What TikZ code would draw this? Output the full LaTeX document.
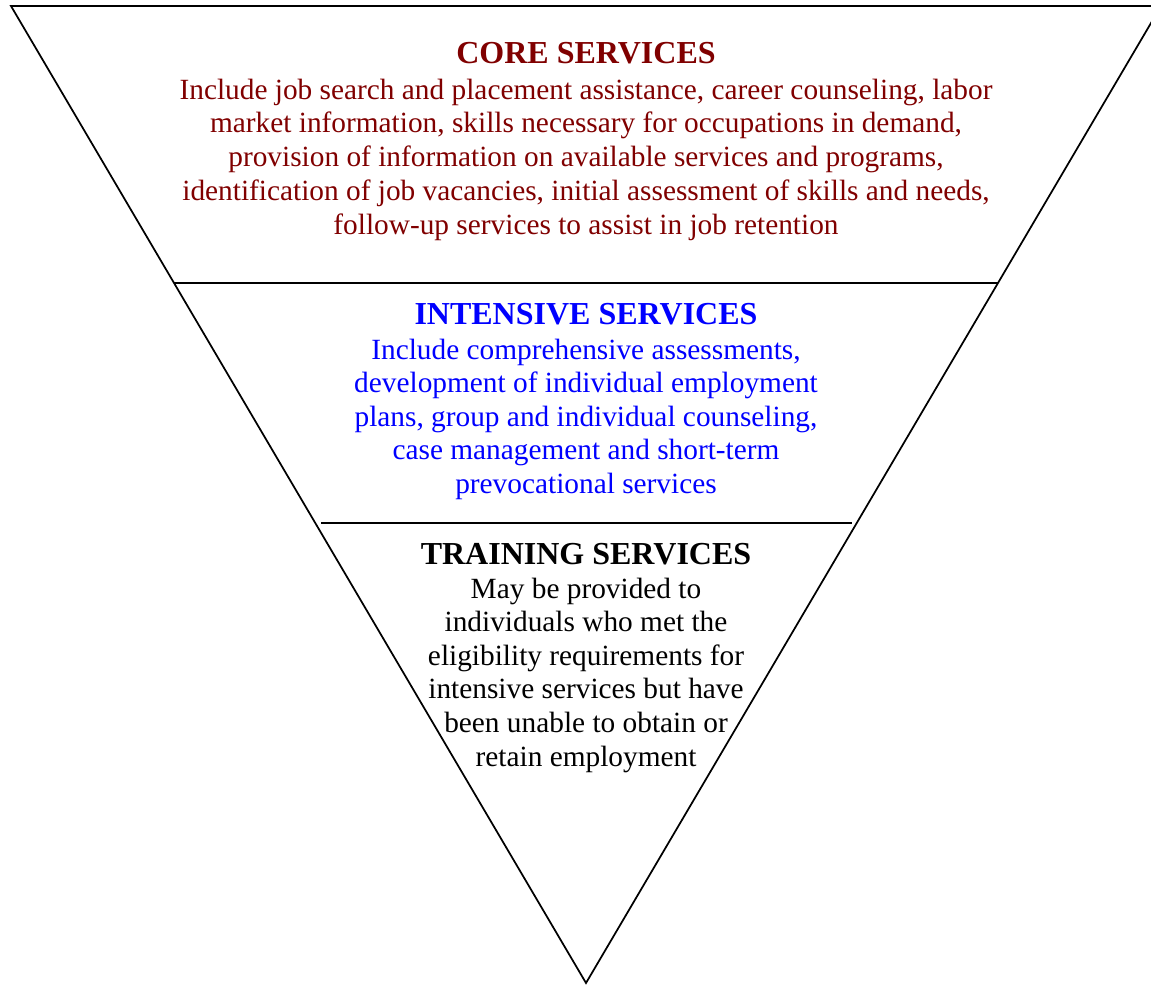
\documentclass[tikz,border=0pt]{standalone}
\usepackage{fontspec}
\setmainfont{Liberation Serif}
\definecolor{coreRed}{RGB}{128,0,0}
\definecolor{intBlue}{RGB}{0,0,255}
\begin{document}
\begin{tikzpicture}[x=0.75pt,y=-0.75pt,
  outline/.style={line width=1.3pt,black},
  headtext/.style={font=\fontsize{24}{28}\selectfont\bfseries,inner sep=0pt,anchor=base},
  bodytext/.style={font=\fontsize{22}{26}\selectfont,inner sep=0pt,anchor=base},
  corestyle/.style={text=coreRed},
  intstyle/.style={text=intBlue},
  trainstyle/.style={text=black}]
\useasboundingbox (0,0) rectangle (1151,985);
\begin{scope}
\clip (0,0) rectangle (1151,985);
% inverted triangle and the two tier dividers
\draw[outline,line join=miter] (11,6) -- (1161,6) -- (586,983) -- cycle;
\draw[outline] (174,283) -- (998,283);
\draw[outline] (321,523) -- (852,523);
\end{scope}

% core tier
\node[headtext,corestyle] (coreTitle) at (586,63) {CORE SERVICES};
\foreach \t [count=\i] in {
  {Include job search and placement assistance, career counseling, labor},
  {market information, skills necessary for occupations in demand,},
  {provision of information on available services and programs,},
  {identification of job vacancies, initial assessment of skills and needs,},
  {follow-up services to assist in job retention}}
  \node[bodytext,corestyle] (core-\i) at (586,{99+33.75*(\i-1)}) {\t};

% intensive tier
\node[headtext,intstyle] (intTitle) at (586,324) {INTENSIVE SERVICES};
\foreach \t [count=\i] in {
  {Include comprehensive assessments,},
  {development of individual employment},
  {plans, group and individual counseling,},
  {case management and short-term},
  {prevocational services}}
  \node[bodytext,intstyle] (int-\i) at (586,{359+33.5*(\i-1)}) {\t};

% training tier
\node[headtext,trainstyle] (trainTitle) at (586,564) {TRAINING SERVICES};
\foreach \t [count=\i] in {
  {May be provided to},
  {individuals who met the},
  {eligibility requirements for},
  {intensive services but have},
  {been unable to obtain or},
  {retain employment}}
  \node[bodytext,trainstyle] (train-\i) at (586,{598+33.6*(\i-1)}) {\t};
\end{tikzpicture}
\end{document}
